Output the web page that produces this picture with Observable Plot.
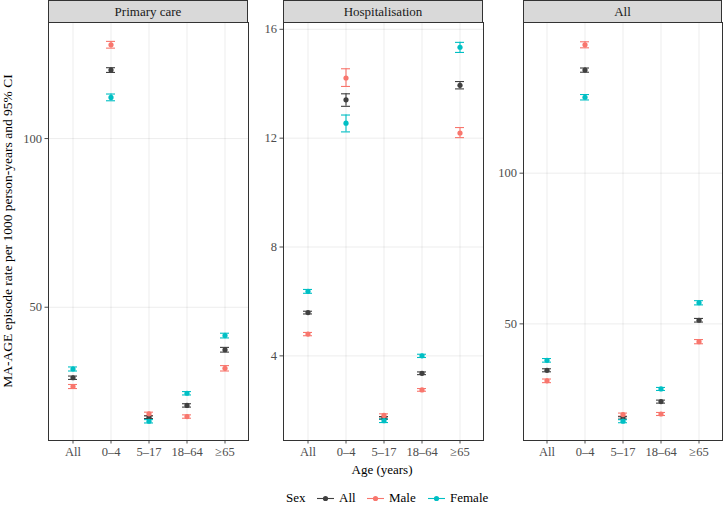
<!DOCTYPE html>
<html><head><meta charset="utf-8">
<script src="https://cdn.jsdelivr.net/npm/d3@7"></script>
<script src="https://cdn.jsdelivr.net/npm/@observablehq/plot@0.6"></script>
<style>
body{margin:0;background:#fff;font-family:"Liberation Serif",serif;}
#root{position:relative;width:724px;height:507px;overflow:hidden;background:#fff;font-family:"Liberation Serif",serif;}
.panel{position:absolute;top:0;}
.strip{position:absolute;top:0;height:23px;background:#D9D9D9;border:1px solid #333;box-sizing:border-box;text-align:center;font-family:"Liberation Serif",serif;font-size:13px;line-height:21px;color:#1A1A1A;}
.ytitle{position:absolute;left:8px;top:231px;transform:translate(-50%,-50%) rotate(-90deg);white-space:nowrap;font-family:"Liberation Serif",serif;font-size:13.5px;color:#000;}
.xtitle{position:absolute;left:382px;top:470px;transform:translate(-50%,-50%);white-space:nowrap;font-family:"Liberation Serif",serif;font-size:13px;color:#000;}
.leg{position:absolute;top:498px;transform:translateY(-50%);font-family:"Liberation Serif",serif;font-size:13px;color:#000;white-space:nowrap;}
.key{position:absolute;top:490px;}
</style>
</head><body><div id="root"></div>
<script>
// ---- data ----
const facets = ["Primary care", "Hospitalisation", "All"];
const ages = ["All", "0–4", "5–17", "18–64", "≥65"];
const sexes = ["All", "Male", "Female"];
const sexColors = ["#404040", "#F8766D", "#00BFC4"];

// Primary care
const pcAllEst = [29.1, 120.3, 17.4, 20.9, 37.4];
const pcAllLo  = [28.6, 119.6, 17.0, 20.4, 36.7];
const pcAllHi  = [29.6, 121.0, 17.8, 21.4, 38.1];
const pcMaleEst = [26.5, 127.8, 18.4, 17.6, 31.9];
const pcMaleLo  = [25.9, 126.8, 17.9, 17.1, 31.1];
const pcMaleHi  = [27.1, 128.8, 18.9, 18.1, 32.7];
const pcFemEst = [31.7, 112.2, 16.2, 24.5, 41.6];
const pcFemLo  = [31.1, 111.2, 15.7, 24.0, 40.9];
const pcFemHi  = [32.3, 113.2, 16.7, 25.0, 42.3];

// Hospitalisation
const hoAllEst = [5.59, 13.41, 1.72, 3.36, 13.94];
const hoAllLo  = [5.54, 13.17, 1.67, 3.31, 13.81];
const hoAllHi  = [5.64, 13.63, 1.77, 3.41, 14.08];
const hoMaleEst = [4.80, 14.21, 1.81, 2.75, 12.19];
const hoMaleLo  = [4.74, 13.90, 1.75, 2.70, 12.02];
const hoMaleHi  = [4.86, 14.55, 1.87, 2.80, 12.39];
const hoFemEst = [6.37, 12.55, 1.62, 4.00, 15.34];
const hoFemLo  = [6.30, 12.23, 1.55, 3.94, 15.15];
const hoFemHi  = [6.44, 12.85, 1.69, 4.06, 15.52];

// All settings
const alAllEst = [34.6, 134.2, 18.8, 24.2, 51.2];
const alAllLo  = [34.1, 133.5, 18.4, 23.7, 50.6];
const alAllHi  = [35.1, 134.9, 19.2, 24.7, 51.8];
const alMaleEst = [31.1, 142.6, 19.9, 20.1, 44.1];
const alMaleLo  = [30.5, 141.6, 19.4, 19.6, 43.4];
const alMaleHi  = [31.7, 143.6, 20.4, 20.6, 44.8];
const alFemEst = [37.9, 125.2, 17.7, 28.4, 57.0];
const alFemLo  = [37.3, 124.3, 17.2, 27.9, 56.3];
const alFemHi  = [38.5, 126.1, 18.2, 28.9, 57.7];

const yTicks = [[50, 100], [4, 8, 12, 16], [50, 100]];
const yDomains = [[10.5, 134.4], [0.89, 16.25], [11.3, 150.0]];

const yTitle = "MA-AGE episode rate per 1000 person-years and 95% CI";
const xTitle = "Age (years)";
const legendTitle = "Sex";

// ---- build rows ----
const series = [
  [[pcAllEst, pcAllLo, pcAllHi], [pcMaleEst, pcMaleLo, pcMaleHi], [pcFemEst, pcFemLo, pcFemHi]],
  [[hoAllEst, hoAllLo, hoAllHi], [hoMaleEst, hoMaleLo, hoMaleHi], [hoFemEst, hoFemLo, hoFemHi]],
  [[alAllEst, alAllLo, alAllHi], [alMaleEst, alMaleLo, alMaleHi], [alFemEst, alFemLo, alFemHi]]
];
function rowsFor(fi) {
  const rows = [];
  series[fi].forEach((s, si) => {
    ages.forEach((a, ai) => rows.push({age: a, sex: sexes[si], est: s[0][ai], lo: s[1][ai], hi: s[2][ai]}));
  });
  return rows;
}

const root = document.getElementById("root");
const layout = [
  {left: 0, width: 250, ml: 48},
  {left: 250, width: 235, ml: 33},
  {left: 490, width: 234, ml: 33}
];
const mr = 2;

facets.forEach((f, fi) => {
  const L = layout[fi];
  const rows = rowsFor(fi);
  const chart = Plot.plot({
    width: L.width, height: 465,
    marginLeft: L.ml, marginRight: mr, marginTop: 22, marginBottom: 25,
    style: {fontFamily: "'Liberation Serif', serif", fontSize: "12.5px", color: "#4D4D4D", background: "white", overflow: "visible"},
    x: {type: "band", domain: ages, paddingInner: 0.77, paddingOuter: 0.485, align: 0.5, label: null, tickSize: 3.5, tickPadding: 3, grid: true},
    y: {domain: yDomains[fi], ticks: yTicks[fi], label: null, tickSize: 3.5, tickPadding: 3, grid: true},
    color: {domain: sexes, range: sexColors},
    marks: [
      Plot.frame({stroke: "#333", strokeWidth: 1}),
      Plot.ruleX(rows, {x: "age", y1: "lo", y2: "hi", stroke: "sex", strokeWidth: 1.1}),
      Plot.tickY(rows, {x: "age", y: "lo", stroke: "sex", strokeWidth: 1.1}),
      Plot.tickY(rows, {x: "age", y: "hi", stroke: "sex", strokeWidth: 1.1}),
      Plot.dot(rows, {x: "age", y: "est", fill: "sex", r: 2.6})
    ]
  });
  const wrap = document.createElement("div");
  wrap.className = "panel";
  wrap.style.left = L.left + "px";
  wrap.appendChild(chart);
  root.appendChild(wrap);

  const strip = document.createElement("div");
  strip.className = "strip";
  strip.style.left = (L.left + L.ml) + "px";
  strip.style.width = (L.width - L.ml - mr) + "px";
  strip.textContent = f;
  root.appendChild(strip);
});

const yt = document.createElement("div");
yt.className = "ytitle"; yt.textContent = yTitle; root.appendChild(yt);
const xt = document.createElement("div");
xt.className = "xtitle"; xt.textContent = xTitle; root.appendChild(xt);

// legend
const legTitle = document.createElement("div");
legTitle.className = "leg"; legTitle.style.left = "286px"; legTitle.textContent = legendTitle;
root.appendChild(legTitle);
const keyX = [317, 367, 428];
const textX = [339, 389, 450];
sexes.forEach((s, i) => {
  const ns = "http://www.w3.org/2000/svg";
  const svg = document.createElementNS(ns, "svg");
  svg.setAttribute("width", 17); svg.setAttribute("height", 17);
  svg.setAttribute("class", "key");
  svg.style.left = keyX[i] + "px";
  const ln = document.createElementNS(ns, "line");
  ln.setAttribute("x1", 0); ln.setAttribute("x2", 17); ln.setAttribute("y1", 8.5); ln.setAttribute("y2", 8.5);
  ln.setAttribute("stroke", sexColors[i]); ln.setAttribute("stroke-width", 1.1);
  const c = document.createElementNS(ns, "circle");
  c.setAttribute("cx", 8.5); c.setAttribute("cy", 8.5); c.setAttribute("r", 2.6); c.setAttribute("fill", sexColors[i]);
  svg.appendChild(ln); svg.appendChild(c);
  root.appendChild(svg);
  const t = document.createElement("div");
  t.className = "leg"; t.style.left = textX[i] + "px"; t.textContent = s;
  root.appendChild(t);
});
</script>
</body></html>
